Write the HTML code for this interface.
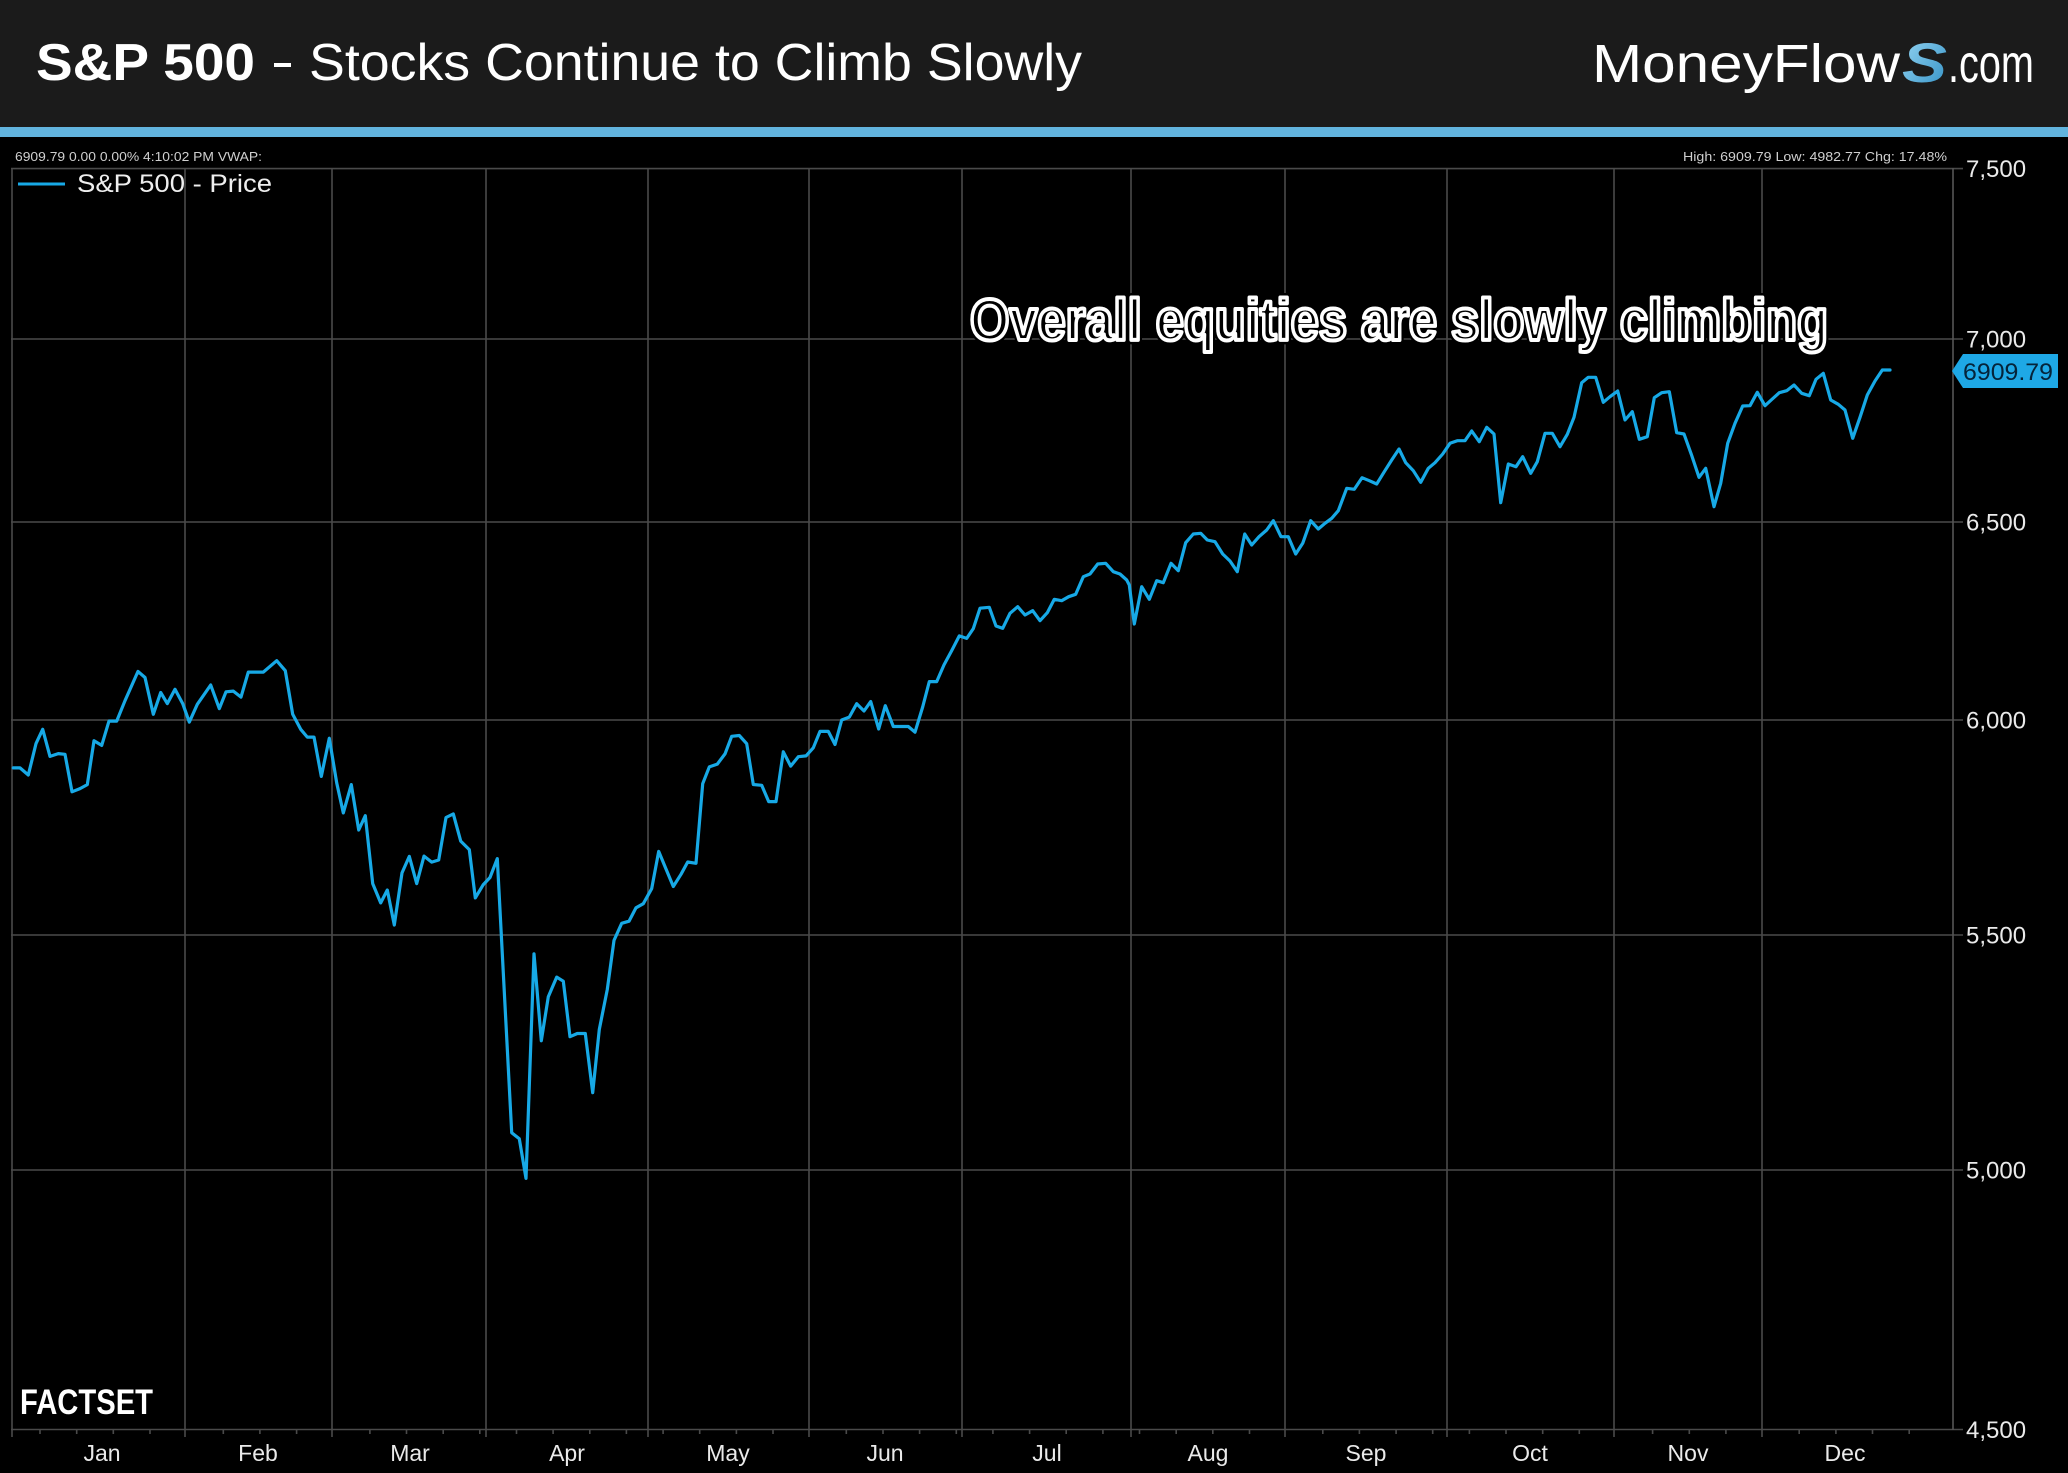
<!DOCTYPE html>
<html>
<head>
<meta charset="utf-8">
<style>
html,body{margin:0;padding:0;background:#000;}
svg{display:block;}
</style>
</head>
<body>
<svg width="2068" height="1473" viewBox="0 0 2068 1473" xmlns="http://www.w3.org/2000/svg" font-family="'Liberation Sans', Arial, sans-serif">
<defs>
<linearGradient id="sg" x1="0" y1="0" x2="1" y2="1">
<stop offset="0" stop-color="#9ad8f5"/>
<stop offset="1" stop-color="#2f8fc4"/>
</linearGradient>
</defs>
<rect x="0" y="0" width="2068" height="1473" fill="#000"/>
<!-- header -->
<rect x="0" y="0" width="2068" height="127" fill="#1b1b1b"/>
<rect x="0" y="127" width="2068" height="10" fill="#62b4de"/>
<text x="36" y="80" font-size="52" font-weight="bold" fill="#fff" textLength="219" lengthAdjust="spacingAndGlyphs">S&amp;P 500</text>
<rect x="274" y="63" width="17" height="4" fill="#fff"/>
<text x="309" y="80" font-size="52" fill="#fff" textLength="773" lengthAdjust="spacingAndGlyphs">Stocks Continue to Climb Slowly</text>
<text x="1592" y="82" font-size="54" fill="#fff" textLength="308" lengthAdjust="spacingAndGlyphs">MoneyFlow</text>
<text x="1902" y="82" font-size="56" font-weight="bold" font-style="italic" fill="url(#sg)" textLength="45" lengthAdjust="spacingAndGlyphs">S</text>
<text x="1948" y="82" font-size="54" fill="#fff" textLength="86" lengthAdjust="spacingAndGlyphs">.com</text>

<!-- info text -->
<text x="15" y="161" font-size="13" fill="#cfcfcf" textLength="247" lengthAdjust="spacingAndGlyphs">6909.79 0.00 0.00% 4:10:02 PM VWAP:</text>
<text x="1683" y="161" font-size="13" fill="#cfcfcf" textLength="264" lengthAdjust="spacingAndGlyphs">High: 6909.79 Low: 4982.77 Chg: 17.48%</text>

<!-- horizontal gridlines -->
<g stroke="#4a4a4a" stroke-width="1.6" fill="none">
<line x1="11" y1="168.6" x2="1963" y2="168.6"/>
<line x1="11" y1="339" x2="1963" y2="339"/>
<line x1="11" y1="522" x2="1963" y2="522"/>
<line x1="11" y1="720" x2="1963" y2="720"/>
<line x1="11" y1="935" x2="1963" y2="935"/>
<line x1="11" y1="1170" x2="1963" y2="1170"/>
<line x1="11" y1="1429.5" x2="1963" y2="1429.5"/>
<!-- vertical gridlines -->
<line x1="12" y1="168" x2="12" y2="1437"/>
<line x1="185" y1="168" x2="185" y2="1437"/>
<line x1="332" y1="168" x2="332" y2="1437"/>
<line x1="486" y1="168" x2="486" y2="1437"/>
<line x1="648" y1="168" x2="648" y2="1437"/>
<line x1="809" y1="168" x2="809" y2="1437"/>
<line x1="962" y1="168" x2="962" y2="1437"/>
<line x1="1131" y1="168" x2="1131" y2="1437"/>
<line x1="1285" y1="168" x2="1285" y2="1437"/>
<line x1="1447" y1="168" x2="1447" y2="1437"/>
<line x1="1614" y1="168" x2="1614" y2="1437"/>
<line x1="1762" y1="168" x2="1762" y2="1437"/>
<line x1="1953" y1="168" x2="1953" y2="1430" stroke="#555"/>
<!-- minor ticks -->
<path d="M40 1429v5M76.7 1429v5M113.3 1429v5M150 1429v5M223.3 1429v5M259.9 1429v5M296.6 1429v5M369.9 1429v5M406.5 1429v5M443.2 1429v5M479.8 1429v5M516.5 1429v5M553.1 1429v5M589.8 1429v5M626.4 1429v5M663.1 1429v5M699.7 1429v5M736.4 1429v5M773 1429v5M846.3 1429v5M883 1429v5M919.6 1429v5M956.3 1429v5M992.9 1429v5M1029.6 1429v5M1066.2 1429v5M1102.9 1429v5M1139.5 1429v5M1176.2 1429v5M1212.8 1429v5M1249.5 1429v5M1322.8 1429v5M1359.4 1429v5M1396.1 1429v5M1432.7 1429v5M1469.4 1429v5M1506 1429v5M1542.7 1429v5M1579.3 1429v5M1652.6 1429v5M1689.3 1429v5M1725.9 1429v5M1799.2 1429v5M1835.9 1429v5M1872.5 1429v5M1909.2 1429v5"/>
</g>

<!-- y labels -->
<g font-size="24" fill="#eaeaea">
<text x="1966" y="177">7,500</text>
<text x="1966" y="347.5">7,000</text>
<text x="1966" y="530.5">6,500</text>
<text x="1966" y="728.5">6,000</text>
<text x="1966" y="943.5">5,500</text>
<text x="1966" y="1178.5">5,000</text>
<text x="1966" y="1438">4,500</text>
</g>

<!-- x labels -->
<g font-size="23" fill="#eaeaea" text-anchor="middle">
<text x="102" y="1461">Jan</text>
<text x="258" y="1461">Feb</text>
<text x="410" y="1461">Mar</text>
<text x="567" y="1461">Apr</text>
<text x="728" y="1461">May</text>
<text x="885" y="1461">Jun</text>
<text x="1047" y="1461">Jul</text>
<text x="1208" y="1461">Aug</text>
<text x="1366" y="1461">Sep</text>
<text x="1530" y="1461">Oct</text>
<text x="1688" y="1461">Nov</text>
<text x="1845" y="1461">Dec</text>
</g>

<!-- legend -->
<line x1="18" y1="184" x2="65" y2="184" stroke="#17a9e6" stroke-width="3"/>
<text x="77" y="192" font-size="25" fill="#eeeeee" textLength="195" lengthAdjust="spacingAndGlyphs">S&amp;P 500 - Price</text>

<!-- annotation -->
<text x="970" y="340" font-size="58" font-weight="bold" fill="#000" stroke="#000" stroke-width="9" stroke-linejoin="round" textLength="858" lengthAdjust="spacingAndGlyphs">Overall equities are slowly climbing</text>
<text x="970" y="340" font-size="58" font-weight="bold" fill="#000" stroke="#fff" stroke-width="4" stroke-linejoin="round" textLength="858" lengthAdjust="spacingAndGlyphs">Overall equities are slowly climbing</text>

<!-- series -->
<polyline fill="none" stroke="#17a9e6" stroke-width="3.2" stroke-linejoin="round" stroke-linecap="round" points="
13.3,767.9 20,767.9 28.3,775 36,743.6 42.7,729.3 50,756.4 58.3,753.6 65,754.3 72,791.8 80,788.6 87.3,784.6 94,740.7 101.7,745.4 109,721.1 116.7,721.1 125,700.7 138,671.4 145,677.5 153.3,714.3 160.7,692.5 167.3,703.6 175,689.3 182.7,703.6 189.3,722.1 197.3,704.3 210.7,685 219.3,708.6 226,691.8 233.3,691.1 241,697.1 248.3,672.1 263.3,672.1 276.7,660.7 285.3,670.7 292.7,714.3 300.7,729.3 307.3,737.1 314,737.1 321.3,776.4 329.3,738.2 336.7,782.9 343.3,812.9 351.3,784.6 358.7,830 365.3,815.7 372.7,883.6 380.7,902.9 387.3,890 394.3,925 402,872.9 409.3,856.4 416.7,883.6 424,856.1 431.7,862.1 438.7,860 446,817.5 453.3,813.9 460.7,841.1 469.3,849.6 475.3,897.9 483.3,884.6 490,877.5 497.3,858.6
511.7,1132.7 519.3,1138.8 526,1178.4 534,953.9 541.3,1040.8 548.3,996.7 556.7,977.1 563.3,981.2 570,1036.7 577.3,1033.5 585.3,1033.5 592.7,1092.7 599.3,1029.4 607.3,989.4 614,940.4 621.7,923.3 629,921.2 636,907.8 643.3,903.7 651.7,888.6 658.7,851.4 666,869 673.3,886.5 681,874.3 687.7,862 696,863.3 702.7,783.7 709.3,766.9 717.3,764.1 725,753.9 731.7,736.3 739.3,735.5 746.7,743.7 753.3,784.5 761.7,785.3 768.7,801.6 776,801.6 783.3,751.8 790.7,766.1 798.3,756.7 806,755.9 813.3,747.8 820,731.4 828.3,731.4 835,744.5 841.7,720 849.3,717.1 856.7,703.7 864,711 870.7,701.6 878.7,729 885.3,705.7 893.3,726.5 900.7,726.5 908.3,726.5 915,732.2 922.7,706.9 929.3,681.6 936.7,681.6 944,664.9 951.7,650.6 959.3,635.9 966.7,638.4 973.3,628.6 980,608.2
989.3,607.3 996,626 1002.7,628.3 1010,613.3 1017.7,606.7 1025,615 1032.7,610.7 1040,620.7 1047.3,612.7 1054.3,599.3 1061.7,600.7 1068.7,596.7 1075.7,594.3 1083.3,576.7 1090,574 1097.7,564 1105.7,563.3 1113.3,571.7 1120,574 1126.7,580 1129.3,585 1134.3,624 1141.7,586.7 1149.3,599.3 1156.7,580.7 1163.3,582.7 1171,563.3 1178.3,570.7 1185.7,542.7 1193.3,534 1200.7,533.3 1207.3,540 1215,541.7 1222.7,554 1230,561 1237.3,571.7 1244.7,534 1251.7,545 1259,536.7 1266.7,530 1273.3,520.7 1281,536.7 1288.3,536.7 1295.7,554 1302.7,543.3 1310.7,520.7 1318.3,529 1325,523.3 1331.7,518.3 1338.3,510.7 1346.7,488.3 1354.3,489.3 1362,477.7 1369.3,480.7 1376.7,484 1384.3,471.7 1391.7,460 1399,449 1405.7,462.7 1413.3,470.7 1420.7,482.3 1428.3,468.3 1435,462.7 1442.7,454 1450,443.3
1457.3,440.7 1465,440.7 1471.7,431 1479.3,441.7 1486.7,427.3 1494,434 1500.7,502.7 1508.3,464 1516,466.7 1522.7,456.7 1530.7,473.3 1537.3,461.7 1545,433.3 1552.3,433.3 1560,446.7 1567.3,434.3 1574,417.3 1581.7,382.7 1588.3,377.3 1595.7,377.3 1603.3,402.3 1610,396.7 1617.7,391 1625,420 1632.3,411.7 1639.3,439.3 1647.3,436.7 1654.3,397.7 1661.7,392.7 1669.3,391.7 1676.7,432.7 1684,434 1691.3,454.3 1699,477.3 1705.7,468.3 1714,506.7 1720.7,483.3 1727.7,443.3 1735,423.3 1742.7,406 1750,405.7 1757.3,392.3 1765,405.7 1772.3,399 1779.3,392.7 1786.7,390.7 1794,385 1801.7,393.3 1809.3,395.7 1816,379.3 1823.3,373.3 1830.7,400 1838.3,404.3 1845,410 1852.7,438.3 1860,417.3 1867.3,395 1875,381 1882.3,370 1890,370"/>

<!-- last value box -->
<polygon points="1952,371 1963,354 2058,354 2058,388 1963,388" fill="#1ea8e6"/>
<text x="1963" y="380" font-size="24" fill="#05243a" textLength="90" lengthAdjust="spacingAndGlyphs">6909.79</text>

<!-- FACTSET -->
<text x="20" y="1414" font-size="35" font-weight="bold" fill="#fff" textLength="133" lengthAdjust="spacingAndGlyphs">FACTSET</text>
</svg>
</body>
</html>
